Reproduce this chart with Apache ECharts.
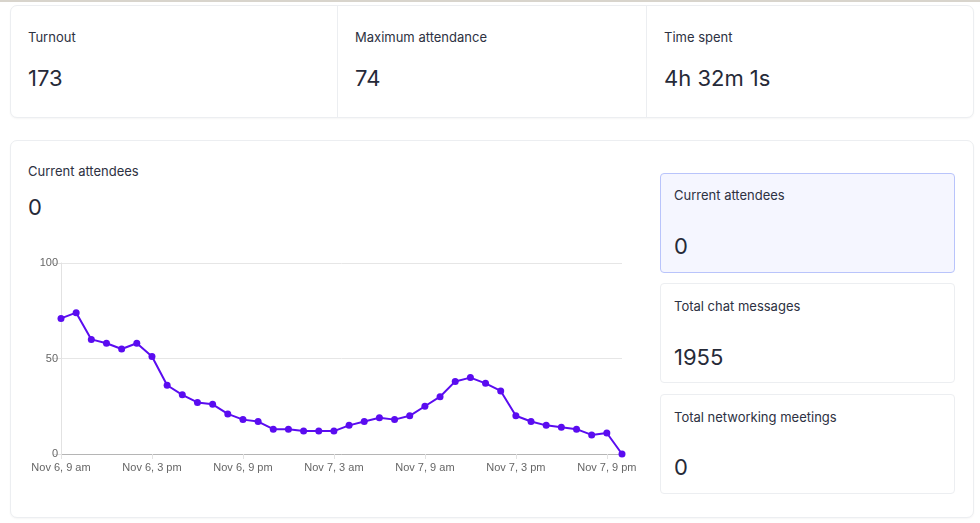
<!DOCTYPE html>
<html>
<head>
<meta charset="utf-8">
<script src="https://cdn.jsdelivr.net/npm/echarts@6/dist/echarts.min.js"></script>
<style>
  html, body { margin: 0; padding: 0; width: 980px; height: 523px; overflow: hidden; background: #fff; font-family: Inter, "Noto Sans", sans-serif; color: #2a2d3a; }
  .topline { position: absolute; left: 0; top: 0; width: 980px; height: 2px; background: #d8d4cc; }
  .card { position: absolute; background: #fff; border: 1px solid #eceef1; border-radius: 7px; box-sizing: border-box; box-shadow: 0 1px 2px rgba(0,0,0,0.04); }
  .lbl { position: absolute; font-size: 13px; line-height: 16px; color: #2d3142; white-space: nowrap; }
  .val { position: absolute; font-size: 22px; line-height: 26px; color: #262a38; white-space: nowrap; }
  .div { position: absolute; top: 0; width: 1px; height: 100%; background: #eceef1; }
  .side { position: absolute; left: 660px; width: 295px; height: 100px; border: 1px solid #eceef1; border-radius: 4px; box-sizing: border-box; background: #fff; }
  .side.active { background: #f5f6ff; border-color: #b9c4fb; }
  #chart { position: absolute; left: 0; top: 140px; width: 650px; height: 383px; }
</style>
</head>
<body>
<div class="topline"></div>
<div class="card" style="left:10px; top:5px; width:964px; height:113px;">
  <div class="div" style="left:326px;"></div>
  <div class="div" style="left:635px;"></div>
</div>
<div class="lbl" style="left:28px; top:29px;">Turnout</div>
<div class="val" style="left:28px; top:65px;">173</div>
<div class="lbl" style="left:355px; top:29px;">Maximum attendance</div>
<div class="val" style="left:355px; top:65px;">74</div>
<div class="lbl" style="left:664px; top:29px;">Time spent</div>
<div class="val" style="left:664px; top:65px;">4h 32m 1s</div>

<div class="card" style="left:10px; top:140px; width:964px; height:378px;"></div>
<div class="lbl" style="left:28px; top:163px;">Current attendees</div>
<div class="val" style="left:28px; top:194px;">0</div>

<div class="side active" style="top:173px;"></div>
<div class="lbl" style="left:674px; top:187px;">Current attendees</div>
<div class="val" style="left:674px; top:233px;">0</div>
<div class="side" style="top:283px;"></div>
<div class="lbl" style="left:674px; top:298px;">Total chat messages</div>
<div class="val" style="left:674px; top:344px;">1955</div>
<div class="side" style="top:394px;"></div>
<div class="lbl" style="left:674px; top:409px;">Total networking meetings</div>
<div class="val" style="left:674px; top:454px;">0</div>

<div id="chart"></div>
<script>
const categories = [
  "Nov 6, 9 am","Nov 6, 10 am","Nov 6, 11 am","Nov 6, 12 pm","Nov 6, 1 pm","Nov 6, 2 pm",
  "Nov 6, 3 pm","Nov 6, 4 pm","Nov 6, 5 pm","Nov 6, 6 pm","Nov 6, 7 pm","Nov 6, 8 pm",
  "Nov 6, 9 pm","Nov 6, 10 pm","Nov 6, 11 pm","Nov 7, 12 am","Nov 7, 1 am","Nov 7, 2 am",
  "Nov 7, 3 am","Nov 7, 4 am","Nov 7, 5 am","Nov 7, 6 am","Nov 7, 7 am","Nov 7, 8 am",
  "Nov 7, 9 am","Nov 7, 10 am","Nov 7, 11 am","Nov 7, 12 pm","Nov 7, 1 pm","Nov 7, 2 pm",
  "Nov 7, 3 pm","Nov 7, 4 pm","Nov 7, 5 pm","Nov 7, 6 pm","Nov 7, 7 pm","Nov 7, 8 pm",
  "Nov 7, 9 pm","Nov 7, 10 pm"
];
const attendees = [
  71, 74, 60, 58, 55, 58,
  51, 36, 31, 27, 26, 21,
  18, 17, 13, 13, 12, 12,
  12, 15, 17, 19, 18, 20,
  25, 30, 38, 40, 37, 33,
  20, 17, 15, 14, 13, 10,
  11, 0
];
const yTicks = [0, 50, 100];
const labelEvery = 6;

const chart = echarts.init(document.getElementById('chart'), null, { renderer: 'canvas' });
chart.setOption({
  animation: false,
  grid: { left: 61, top: 123, width: 561, height: 191, containLabel: false, outerBoundsMode: 'none' },
  xAxis: {
    type: 'category',
    data: categories,
    boundaryGap: false,
    axisLine: { show: true, lineStyle: { color: '#b5b5b5', width: 1 } },
    axisTick: { show: true, interval: function (i) { return i % labelEvery === 0; }, length: 5, lineStyle: { color: '#e2e2e2' } },
    axisLabel: {
      interval: function (i) { return i % labelEvery === 0; },
      color: '#666', fontSize: 11, fontFamily: 'Liberation Sans, Arial, sans-serif', margin: 8,
      hideOverlap: false
    },
    splitLine: { show: false }
  },
  yAxis: {
    type: 'value',
    min: yTicks[0],
    max: yTicks[yTicks.length - 1],
    interval: 50,
    axisLine: { show: true, lineStyle: { color: '#e2e2e2' } },
    axisTick: { show: true, length: 8, lineStyle: { color: '#e2e2e2' } },
    axisLabel: { color: '#666', fontSize: 11, fontFamily: 'Liberation Sans, Arial, sans-serif', margin: 3 },
    splitLine: { show: true, lineStyle: { color: '#e6e6e6' } }
  },
  series: [{
    type: 'line',
    data: attendees,
    symbol: 'circle',
    symbolSize: 7,
    showAllSymbol: true,
    lineStyle: { color: '#5a0cf0', width: 2 },
    itemStyle: { color: '#5a0cf0' }
  }]
});
</script>
</body>
</html>
